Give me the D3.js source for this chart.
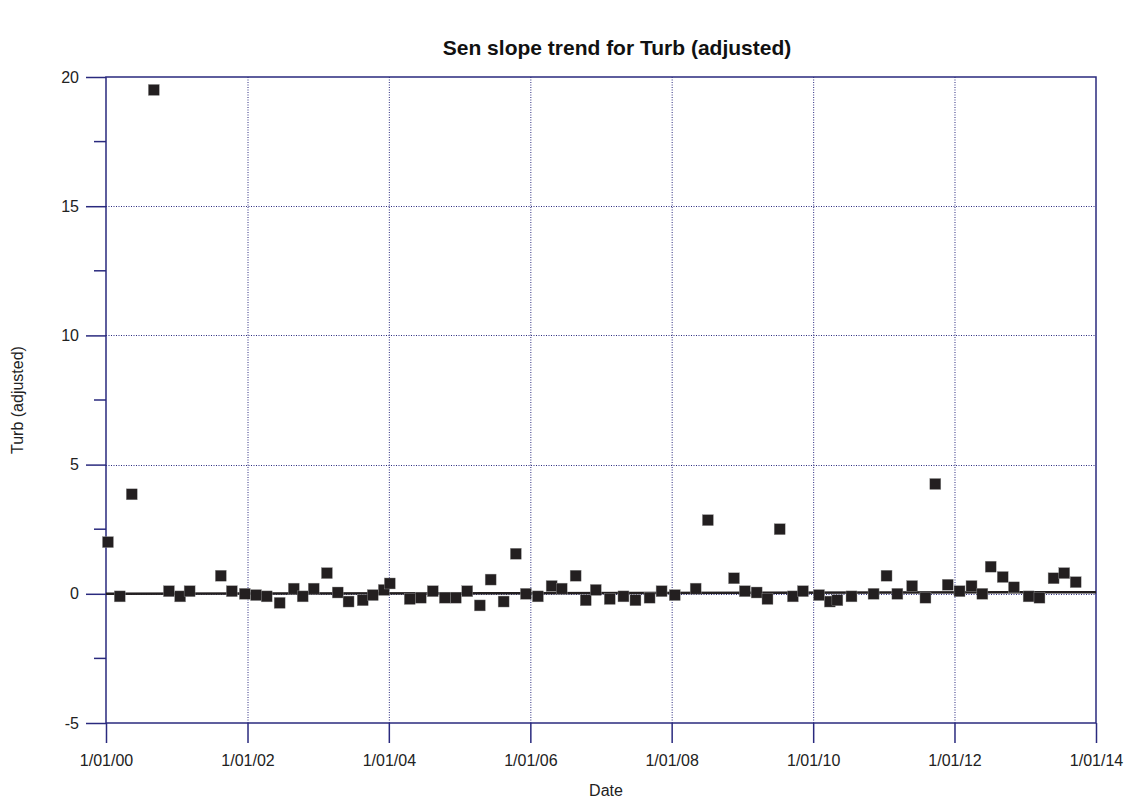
<!DOCTYPE html>
<html>
<head>
<meta charset="utf-8">
<script src="https://cdn.jsdelivr.net/npm/d3@7"></script>
<style>
  body { margin: 0; background: #fff; }
  text { font-family: "Liberation Sans", Arial, sans-serif; }
</style>
</head>
<body>
<div id="chart"></div>
<script>
// sample dates and adjusted turbidity
var dates = ["2000-01-11","2000-03-12","2000-05-13","2000-09-04","2000-11-21","2001-01-18","2001-03-08","2001-08-16","2001-10-12","2001-12-18",
  "2002-02-14","2002-04-10","2002-06-16","2002-08-28","2002-10-13","2002-12-09","2003-02-15","2003-04-12","2003-06-07","2003-08-19",
  "2003-10-10","2003-12-06","2004-01-06","2004-04-18","2004-06-14","2004-08-15","2004-10-16","2004-12-12","2005-02-09","2005-04-15",
  "2005-06-10","2005-08-16","2005-10-18","2005-12-09","2006-02-09","2006-04-21","2006-06-12","2006-08-23","2006-10-14","2006-12-05",
  "2007-02-15","2007-04-27","2007-06-28","2007-09-09","2007-11-10","2008-01-17","2008-05-04","2008-07-06","2008-11-18","2009-01-13",
  "2009-03-15","2009-05-10","2009-07-12","2009-09-18","2009-11-09","2010-01-31","2010-03-28","2010-05-06","2010-07-18","2010-11-09",
  "2011-01-15","2011-03-12","2011-05-27","2011-08-04","2011-09-24","2011-11-27","2012-01-27","2012-03-29","2012-05-24","2012-07-06",
  "2012-09-06","2012-11-03","2013-01-18","2013-03-15","2013-05-27","2013-07-21","2013-09-18"];
var values = [2.0,-0.1,3.85,19.5,0.1,-0.1,0.1,0.7,0.1,0.0,
  -0.05,-0.1,-0.35,0.2,-0.1,0.2,0.8,0.05,-0.3,-0.25,
  -0.05,0.15,0.4,-0.2,-0.15,0.1,-0.15,-0.15,0.1,-0.45,
  0.55,-0.3,1.55,0.0,-0.1,0.3,0.2,0.7,-0.25,0.15,
  -0.2,-0.1,-0.25,-0.15,0.1,-0.05,0.2,2.85,0.6,0.1,
  0.05,-0.2,2.5,-0.1,0.1,-0.05,-0.3,-0.25,-0.1,0.0,
  0.7,0.0,0.3,-0.15,4.25,0.35,0.1,0.3,0.0,1.05,
  0.65,0.25,-0.1,-0.15,0.6,0.8,0.45];

// sen slope line end points
var trendDates = ["2000-01-01","2014-01-01"];
var trendValues = [0.0, 0.06];

var xTicks = ["2000-01-01","2002-01-01","2004-01-01","2006-01-01","2008-01-01","2010-01-01","2012-01-01","2014-01-01"];
var yTicks = [-5, 0, 5, 10, 15, 20];
var yMinorTicks = [-2.5, 2.5, 7.5, 12.5, 17.5];

var width = 1135, height = 805;
var margin = {top: 77, right: 39, bottom: 82, left: 106};
var axisColor = "#2a2a7e";

var parse = d3.timeParse("%Y-%m-%d");
var fmt = d3.timeFormat("%-d/%m/%y");

var svg = d3.select("#chart").append("svg")
  .attr("width", width)
  .attr("height", height);

var x = d3.scaleTime()
  .domain([parse("2000-01-01"), parse("2014-01-01")])
  .range([margin.left, width - margin.right]);

var y = d3.scaleLinear()
  .domain([-5, 20])
  .range([height - margin.bottom, margin.top]);

// grid
svg.append("g")
  .selectAll("line.vgrid")
  .data(xTicks.slice(1, -1))
  .enter().append("line")
  .attr("x1", d => x(parse(d)) + 0.5).attr("x2", d => x(parse(d)) + 0.5)
  .attr("y1", margin.top).attr("y2", height - margin.bottom)
  .attr("stroke", axisColor).attr("stroke-width", 1)
  .attr("stroke-dasharray", "1,1.5");

svg.append("g")
  .selectAll("line.hgrid")
  .data(yTicks.slice(1, -1))
  .enter().append("line")
  .attr("x1", margin.left).attr("x2", width - margin.right)
  .attr("y1", d => Math.round(y(d)) + 0.5).attr("y2", d => Math.round(y(d)) + 0.5)
  .attr("stroke", axisColor).attr("stroke-width", 1)
  .attr("stroke-dasharray", "1,1.5");

// y axis
var yAxis = d3.axisLeft(y).tickValues(yTicks).tickFormat(d => String(d)).tickSize(20).tickPadding(7);
var gy = svg.append("g")
  .attr("transform", "translate(" + margin.left + ",0)")
  .call(yAxis);
gy.select(".domain").remove();
gy.selectAll("line").attr("stroke", axisColor).attr("stroke-width", 1.5);
gy.selectAll("text").attr("font-size", 16).attr("fill", "#222");

svg.append("g")
  .selectAll("line")
  .data(yMinorTicks)
  .enter().append("line")
  .attr("x1", margin.left - 12).attr("x2", margin.left)
  .attr("y1", d => y(d)).attr("y2", d => y(d))
  .attr("stroke", axisColor).attr("stroke-width", 1.5);

// x axis
var xAxis = d3.axisBottom(x).tickValues(xTicks.map(parse)).tickFormat(fmt).tickSize(20).tickPadding(12);
var gx = svg.append("g")
  .attr("transform", "translate(0," + (height - margin.bottom) + ")")
  .call(xAxis);
gx.select(".domain").remove();
gx.selectAll("line").attr("stroke", axisColor).attr("stroke-width", 1.5);
gx.selectAll("text").attr("font-size", 16).attr("fill", "#222");

// frame
svg.append("rect")
  .attr("x", margin.left).attr("y", margin.top)
  .attr("width", width - margin.left - margin.right)
  .attr("height", height - margin.top - margin.bottom)
  .attr("fill", "none")
  .attr("stroke", axisColor).attr("stroke-width", 1.5);

// trend line
svg.append("line")
  .attr("x1", x(parse(trendDates[0]))).attr("y1", y(trendValues[0]))
  .attr("x2", x(parse(trendDates[1]))).attr("y2", y(trendValues[1]))
  .attr("stroke", "#231f20").attr("stroke-width", 2.5);

// points
var size = 11;
svg.append("g")
  .selectAll("rect")
  .data(dates.map((d, i) => ({date: parse(d), value: values[i]})))
  .enter().append("rect")
  .attr("x", d => x(d.date) - size / 2)
  .attr("y", d => y(d.value) - size / 2)
  .attr("width", size).attr("height", size)
  .attr("fill", "#231f20")
  .attr("stroke", "#9a9a9a").attr("stroke-width", 0.4);

// titles
svg.append("text")
  .attr("x", 617).attr("y", 55)
  .attr("text-anchor", "middle")
  .attr("font-size", 21).attr("font-weight", "bold").attr("fill", "#111")
  .text("Sen slope trend for Turb (adjusted)");

svg.append("text")
  .attr("x", (margin.left + width - margin.right) / 2 + 5).attr("y", 796)
  .attr("text-anchor", "middle")
  .attr("font-size", 16).attr("fill", "#222")
  .text("Date");

svg.append("text")
  .attr("transform", "translate(23," + (margin.top + (height - margin.top - margin.bottom) / 2) + ") rotate(-90)")
  .attr("text-anchor", "middle")
  .attr("font-size", 16).attr("fill", "#222")
  .text("Turb (adjusted)");
</script>
</body>
</html>
